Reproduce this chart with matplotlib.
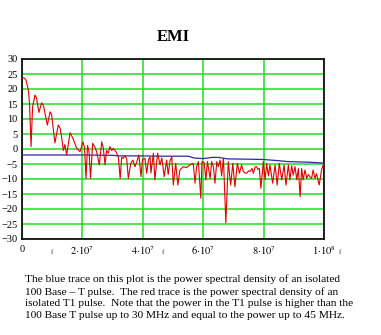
import matplotlib
matplotlib.use('Agg')
import matplotlib.pyplot as plt
import numpy as np

# red trace: T1 pulse PSD, frequency in MHz, level in dB
red_mhz = [0, 0.66, 1.3, 2.1, 2.5, 3.0, 3.5, 4.3, 4.8, 5.6, 6.5, 7.1, 8.4, 9.3, 9.8,
           10.9, 12.0, 12.6, 13.1, 13.7, 14.2, 14.8, 15.9, 16.9, 18.1, 19.2, 20.2,
           20.7, 21.2, 21.7, 22.2, 22.7, 23.4, 24.2, 24.7, 25.6, 26.4, 26.9, 27.5,
           28.0, 28.6, 29.1, 29.7, 30.2, 31.1, 31.9, 32.5, 33.0, 33.5, 34.1, 34.7,
           35.2, 36.0, 36.7, 37.4, 38.1, 38.7, 39.4, 39.9, 40.7, 41.3, 41.9, 42.4,
           42.7, 43.5, 44.0, 44.9, 45.7, 46.3, 47.1, 47.9, 48.4, 49.0, 49.6, 50.1,
           50.9, 51.6, 52.3, 53.4, 54.5, 55.6, 56.7, 57.3, 57.8, 58.4, 59.2, 59.6,
           60.3, 60.9, 61.4, 62.3, 62.8, 63.4, 63.9, 64.5, 65.0, 65.6, 66.1, 66.7,
           67.5, 68.3, 69.1, 69.8, 70.5, 71.3, 72.0, 72.7, 73.3, 73.8, 74.4, 75.0,
           75.5, 76.2, 76.6, 77.2, 77.7, 78.1, 78.6, 79.1, 79.9, 80.5, 81.0, 81.6,
           82.1, 83.0, 83.8, 84.5, 85.2, 86.0, 86.8, 87.4, 88.2, 88.7, 89.3, 89.8,
           90.4, 91.0, 91.5, 92.1, 92.6, 93.1, 93.7, 94.3, 94.8, 95.4, 95.9, 96.4,
           97.0, 97.5, 98.4, 99.2, 99.7, 100.0]
red_db = [23.6, 23.7, 23.0, 19.7, 15.0, 0.8, 14.0, 18.0, 17.0, 12.2, 15.4, 14.5, 8.0,
          12.4, 11.5, 2.0, 8.0, 7.0, 4.1, -0.5, 1.5, -2.0, 5.4, 3.5, 0.2, -0.9, 2.4,
          0.5, -9.8, 1.2, -1.0, -9.8, 1.9, 0.5, -0.9, -5.3, 2.4, 0.5, -5.3,
          -0.5, -1.4, 0.8, -0.5, 0.2, -0.9, -2.6, -9.8, -2.8, -3.1, -2.2, -3.5,
          -9.8, -4.8, -3.7, -5.9, -4.0, -2.0, -9.2, -3.5, -3.1, -8.1, -3.5, -2.6,
          -8.0, -1.4, -10.3, -1.4, -5.3, -3.0, -9.2, -3.7, -8.5, -4.0, -2.6, -12.0,
          -4.8, -12.0, -7.0, -5.9, -6.2, -5.3, -4.8, -11.4, -6.0, -4.2, -16.4, -4.2,
          -4.5, -10.3, -4.2, -9.8, -4.2, -6.0, -11.4, -4.2, -5.9, -3.7, -9.0, -3.1,
          -24.6, -4.2, -12.0, -4.8, -12.6, -4.8, -8.1, -5.3, -7.5, -8.0, -8.1, -7.3,
          -7.5, -6.5, -8.1, -6.0, -5.9, -6.8, -6.5, -13.1, -4.2, -10.3, -4.8, -9.0,
          -5.3, -11.4, -5.3, -12.0, -4.8, -10.3, -5.3, -12.0, -5.3, -10.3, -5.6, -8.7,
          -5.9, -10.3, -6.5, -15.9, -6.5, -10.3, -7.0, -9.8, -8.5, -9.3, -9.8, -7.0,
          -9.8, -8.2, -12.0, -7.0, -5.3, -5.0]

# blue trace: 100 Base-T pulse PSD
blue_mhz = [0, 20, 30, 32, 40, 46, 55, 57, 60, 63, 65, 68, 75, 80, 85, 88, 95, 100]
blue_db = [-2.0, -2.0, -2.1, -2.3, -2.3, -2.4, -2.4, -3.0, -3.2, -2.8, -2.8, -3.3,
           -3.4, -3.5, -3.9, -4.2, -4.4, -4.7]

y_ticks = list(range(-30, 31, 5))
x_ticks = [0, 2e7, 4e7, 6e7, 8e7, 1e8]
x_labels = ['0', r'$2{\cdot}10^{7}$', r'$4{\cdot}10^{7}$', r'$6{\cdot}10^{7}$',
            r'$8{\cdot}10^{7}$', r'$1{\cdot}10^{8}$']

caption = ("The blue trace on this plot is the power spectral density of an isolated\n"
           "100 Base \u2013 T pulse.  The red trace is the power spectral density of an\n"
           "isolated T1 pulse.  Note that the power in the T1 pulse is higher than the\n"
           "100 Base T pulse up to 30 MHz and equal to the power up to 45 MHz.")

plt.rcParams['font.family'] = ['Liberation Serif', 'DejaVu Serif']
plt.rcParams['mathtext.fontset'] = 'stix'

fig = plt.figure(figsize=(3.81, 3.35), dpi=100)
ax = fig.add_axes([22 / 381, 96 / 335, 302 / 381, 180 / 335])

ax.plot(np.array(blue_mhz) * 1e6, blue_db, color='#2a2aa8', lw=0.9, zorder=3)
ax.plot(np.array(red_mhz) * 1e6, red_db, color='#e00000', lw=0.8, zorder=4)

ax.set_xlim(0, 1e8)
ax.set_ylim(-30, 30)
ax.set_yticks(y_ticks)
ax.set_yticklabels([str(v).replace('-', '\u2212') for v in y_ticks], fontsize=7.5)
ax.set_xticks(x_ticks)
ax.set_xticklabels(x_labels, fontsize=7.5)
ax.tick_params(length=0, pad=3)
ax.tick_params(axis='x', pad=4)
ax.grid(True, color='#22dd22', lw=1.1)
ax.set_axisbelow(True)
for s in ax.spines.values():
    s.set_linewidth(1.2)
    s.set_color('black')

fig.text(173 / 381, 1 - 37 / 335, 'EMI', fontsize=12, fontweight='bold',
         ha='center', va='center')

# stray axis-label marks under the x axis
for xp in [52, 163, 340]:
    fig.text(xp / 381, 1 - 252 / 335, 'f', fontsize=5, color='#333333',
             ha='center', va='center')

fig.text(25 / 381, 1 - 320 / 335, caption, fontsize=8.2, ha='left', va='bottom',
         linespacing=1.38)

fig.savefig('out.png', dpi=100)
